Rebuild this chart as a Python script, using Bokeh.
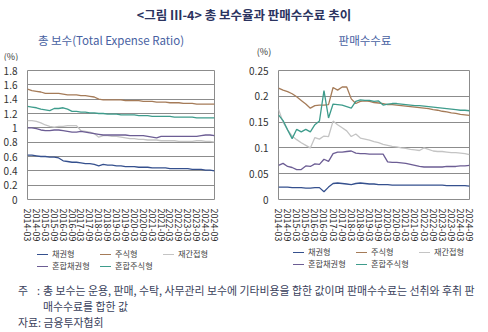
from bokeh.plotting import figure
from bokeh.models import Range1d, FixedTicker, NumeralTickFormatter, Div
from bokeh.layouts import column, row
from bokeh.embed import file_html
from bokeh.resources import INLINE

# ---------------- data ----------------
x_labels = ["2014-03", "2014-09", "2015-03", "2015-09", "2016-03", "2016-09", "2017-03", "2017-09",
            "2018-03", "2018-09", "2019-03", "2019-09", "2020-03", "2020-09", "2021-03", "2021-09",
            "2022-03", "2022-09", "2023-03", "2023-09", "2024-03", "2024-09"]
quarter_idx = list(range(43))  # 2014-03 ... 2024-09, quarterly

series_names = ["채권형", "주식형", "재간접형", "혼합채권형", "혼합주식형"]

# total expense ratio (%)
ter_bond = [0.62, 0.62, 0.61, 0.60, 0.60, 0.59, 0.59, 0.58, 0.54, 0.53, 0.52, 0.52, 0.51, 0.50, 0.50, 0.49,
            0.47, 0.49, 0.48, 0.48, 0.47, 0.47, 0.46, 0.46, 0.46, 0.45, 0.45, 0.45, 0.44, 0.44, 0.44, 0.44,
            0.43, 0.43, 0.43, 0.43, 0.43, 0.42, 0.42, 0.42, 0.41, 0.41, 0.40]
ter_stock = [1.54, 1.52, 1.51, 1.50, 1.48, 1.48, 1.48, 1.48, 1.47, 1.46, 1.46, 1.46, 1.45, 1.45, 1.44, 1.43,
             1.40, 1.39, 1.39, 1.39, 1.39, 1.39, 1.38, 1.38, 1.38, 1.38, 1.37, 1.37, 1.37, 1.36, 1.36, 1.36,
             1.35, 1.35, 1.35, 1.34, 1.34, 1.34, 1.33, 1.33, 1.33, 1.33, 1.33]
ter_fof = [1.10, 1.10, 1.09, 1.07, 1.04, 1.02, 1.01, 1.02, 1.02, 1.03, 1.03, 1.03, 0.96, 0.95, 0.94, 0.92,
           0.87, 0.89, 0.89, 0.88, 0.88, 0.87, 0.86, 0.85, 0.85, 0.84, 0.84, 0.83, 0.83, 0.83, 0.82, 0.82,
           0.82, 0.82, 0.81, 0.81, 0.81, 0.81, 0.82, 0.82, 0.81, 0.81, 0.80]
ter_mixed_bond = [1.00, 1.00, 0.99, 0.97, 0.96, 0.96, 0.97, 0.97, 0.96, 0.95, 0.94, 0.94, 0.95, 0.94, 0.93, 0.92,
                  0.91, 0.90, 0.90, 0.90, 0.90, 0.90, 0.90, 0.89, 0.89, 0.89, 0.89, 0.88, 0.87, 0.86, 0.88, 0.88,
                  0.88, 0.88, 0.88, 0.88, 0.88, 0.88, 0.88, 0.89, 0.90, 0.90, 0.89]
ter_mixed_stock = [1.30, 1.29, 1.28, 1.26, 1.25, 1.24, 1.27, 1.27, 1.28, 1.26, 1.23, 1.23, 1.22, 1.22, 1.21, 1.21,
                   1.20, 1.20, 1.19, 1.19, 1.19, 1.18, 1.18, 1.18, 1.18, 1.17, 1.17, 1.17, 1.16, 1.16, 1.16, 1.16,
                   1.16, 1.15, 1.15, 1.15, 1.15, 1.15, 1.14, 1.14, 1.14, 1.14, 1.14]

# sales commission (%)
fee_bond = [0.024, 0.024, 0.024, 0.023, 0.023, 0.023, 0.022, 0.022, 0.023, 0.023, 0.015, 0.024, 0.031, 0.032,
            0.031, 0.030, 0.029, 0.031, 0.032, 0.031, 0.030, 0.030, 0.029, 0.029, 0.029, 0.028, 0.028, 0.028,
            0.028, 0.028, 0.028, 0.028, 0.028, 0.028, 0.028, 0.028, 0.028, 0.027, 0.027, 0.027, 0.027, 0.027,
            0.026]
fee_stock = [0.216, 0.212, 0.209, 0.205, 0.199, 0.192, 0.185, 0.177, 0.182, 0.183, 0.183, 0.184, 0.217, 0.212,
             0.218, 0.218, 0.195, 0.186, 0.190, 0.191, 0.190, 0.188, 0.187, 0.186, 0.184, 0.184, 0.183, 0.182,
             0.181, 0.180, 0.179, 0.178, 0.177, 0.176, 0.174, 0.173, 0.171, 0.170, 0.168, 0.167, 0.165, 0.164,
             0.163]
fee_fof = [0.175, 0.150, 0.135, 0.123, 0.116, 0.110, 0.105, 0.100, 0.120, 0.117, 0.123, 0.122, 0.152, 0.145,
           0.139, 0.133, 0.122, 0.127, 0.119, 0.117, 0.115, 0.112, 0.110, 0.107, 0.105, 0.103, 0.102, 0.100,
           0.099, 0.097, 0.096, 0.095, 0.100, 0.097, 0.094, 0.093, 0.093, 0.092, 0.091, 0.091, 0.090, 0.089,
           0.087]
fee_mixed_bond = [0.066, 0.070, 0.064, 0.062, 0.058, 0.058, 0.065, 0.064, 0.069, 0.068, 0.078, 0.074, 0.089,
                  0.092, 0.092, 0.093, 0.094, 0.090, 0.089, 0.089, 0.088, 0.088, 0.088, 0.088, 0.073, 0.072,
                  0.072, 0.071, 0.070, 0.068, 0.066, 0.064, 0.063, 0.063, 0.063, 0.063, 0.063, 0.064, 0.064,
                  0.064, 0.065, 0.065, 0.066]
fee_mixed_stock = [0.164, 0.153, 0.135, 0.118, 0.136, 0.131, 0.136, 0.131, 0.145, 0.152, 0.211, 0.158, 0.185,
                   0.184, 0.183, 0.180, 0.177, 0.190, 0.193, 0.192, 0.192, 0.190, 0.191, 0.183, 0.185, 0.186,
                   0.186, 0.185, 0.184, 0.183, 0.182, 0.182, 0.181, 0.180, 0.179, 0.178, 0.177, 0.176, 0.175,
                   0.174, 0.173, 0.173, 0.172]

left_ticks = [0, 0.2, 0.4, 0.6, 0.8, 1.0, 1.2, 1.4, 1.6, 1.8]
right_ticks = [0, 0.05, 0.1, 0.15, 0.2, 0.25]

main_title = "&lt;그림 III-4&gt; 총 보수율과 판매수수료 추이"
left_title = "총 보수(Total Expense Ratio)"
right_title = "판매수수료"
unit_label = "(%)"
note1 = "총 보수는 운용, 판매, 수탁, 사무관리 보수에 기타비용을 합한 값이며 판매수수료는 선취와 후취 판"
note2 = "매수수료를 합한 값"
source = "자료: 금융투자협회"

colors = ["#35508e", "#a57b58", "#c4c4c4", "#6c5d94", "#3e9c8c"]
FONT = "Noto Sans CJK KR"
GRID = "#8c8c8c"


def make_fig(series, ymax, ticks, borders):
    left, right, top, bottom = borders
    p = figure(width=244, height=184, x_range=Range1d(0, 42), y_range=Range1d(0, ymax),
               output_backend="svg", toolbar_location=None, title=None,
               min_border_left=left, min_border_right=right, min_border_top=top, min_border_bottom=bottom)
    p.background_fill_color = "white"
    p.border_fill_color = "white"
    p.outline_line_color = GRID
    p.outline_line_width = 1
    p.xgrid.grid_line_color = None
    p.ygrid.grid_line_color = GRID
    p.ygrid.grid_line_width = 1

    p.yaxis.ticker = FixedTicker(ticks=ticks)
    p.yaxis.formatter = NumeralTickFormatter(format="0.[00]")
    p.yaxis.axis_line_color = None
    p.yaxis.major_tick_line_color = None
    p.yaxis.minor_tick_line_color = None
    p.yaxis.major_label_standoff = 4
    p.yaxis.major_label_text_font = FONT
    p.yaxis.major_label_text_font_size = "10px"
    p.yaxis.major_label_text_color = "#333333"

    p.xaxis.ticker = FixedTicker(ticks=quarter_idx[::2])
    p.xaxis.major_label_overrides = {i: lab for i, lab in zip(quarter_idx[::2], x_labels)}
    p.xaxis.major_label_orientation = "vertical"
    p.xaxis.axis_line_color = None
    p.xaxis.major_tick_line_color = None
    p.xaxis.minor_tick_line_color = None
    p.xaxis.major_label_standoff = 3
    p.xaxis.major_label_text_font = FONT
    p.xaxis.major_label_text_font_size = "9px"
    p.xaxis.major_label_text_color = "#262626"

    for ys, c in zip(series, colors):
        p.line(quarter_idx, ys, line_color=c, line_width=1.3)
    return p


p1 = make_fig([ter_bond, ter_stock, ter_fof, ter_mixed_bond, ter_mixed_stock], 1.8, left_ticks,
              (23, 30, 10, 42))
p2 = make_fig([fee_bond, fee_stock, fee_fof, fee_mixed_bond, fee_mixed_stock], 0.25, right_ticks,
              (34, 19, 6, 45))


def legend_html(x0, y0):
    # 3 columns x 2 rows, same order as the series
    parts = []
    for k, (name, c) in enumerate(zip(series_names, colors)):
        col, rw = k % 3, k // 3
        x = x0 + col * 63
        y = y0 + rw * 12
        parts.append(
            f'<div style="position:absolute;left:{x}px;top:{y - 5}px;height:10px;line-height:10px;'
            f'white-space:nowrap;font-size:8.2px;color:#444444;">'
            f'<span style="display:inline-block;width:11px;height:0;border-top:1.3px solid {c};'
            f'vertical-align:middle;margin-right:4px;"></span>{name}</div>')
    return "".join(parts)


title_html = f"""<div style="position:relative;width:488px;height:60px;font-family:'{FONT}';">
<div style="position:absolute;left:0px;top:6px;width:488px;text-align:center;font-size:12.5px;line-height:18px;font-weight:bold;color:#2b335f;white-space:nowrap;">{main_title}</div>
<div style="position:absolute;left:0px;top:31px;width:222px;text-align:center;font-size:11.5px;line-height:18px;color:#4761a2;white-space:nowrap;">{left_title}</div>
<div style="position:absolute;left:244px;top:31px;width:242px;text-align:center;font-size:11.5px;line-height:18px;color:#4761a2;white-space:nowrap;">{right_title}</div>
<div style="position:absolute;left:0px;top:50px;width:22px;text-align:center;font-size:9px;line-height:14px;color:#333333;white-space:nowrap;">{unit_label}</div>
<div style="position:absolute;left:253px;top:45px;width:22px;text-align:center;font-size:9px;line-height:14px;color:#333333;white-space:nowrap;">{unit_label}</div>
</div>"""

leg_html = (f"""<div style="position:relative;width:488px;height:29px;font-family:'{FONT}';">"""
            + legend_html(37, 9) + legend_html(293, 7) + "</div>")

note_html = f"""<div style="position:relative;width:488px;height:59px;font-family:'{FONT}';font-size:10.9px;line-height:16px;color:#3a3f5c;">
<div style="position:absolute;left:18px;top:9px;white-space:nowrap;">주</div>
<div style="position:absolute;left:37px;top:9px;white-space:nowrap;">:</div>
<div style="position:absolute;left:43px;top:9px;white-space:nowrap;">{note1}</div>
<div style="position:absolute;left:43px;top:25px;white-space:nowrap;">{note2}</div>
<div style="position:absolute;left:18px;top:41px;white-space:nowrap;">{source}</div>
</div>"""

title_div = Div(text=title_html, width=488, height=60, margin=0)
leg_div = Div(text=leg_html, width=488, height=29, margin=0)
note_div = Div(text=note_html, width=488, height=59, margin=0)

layout = column(title_div, row(p1, p2, margin=0), leg_div, note_div, margin=0)

open("out.html", "w").write(file_html(layout, INLINE))
